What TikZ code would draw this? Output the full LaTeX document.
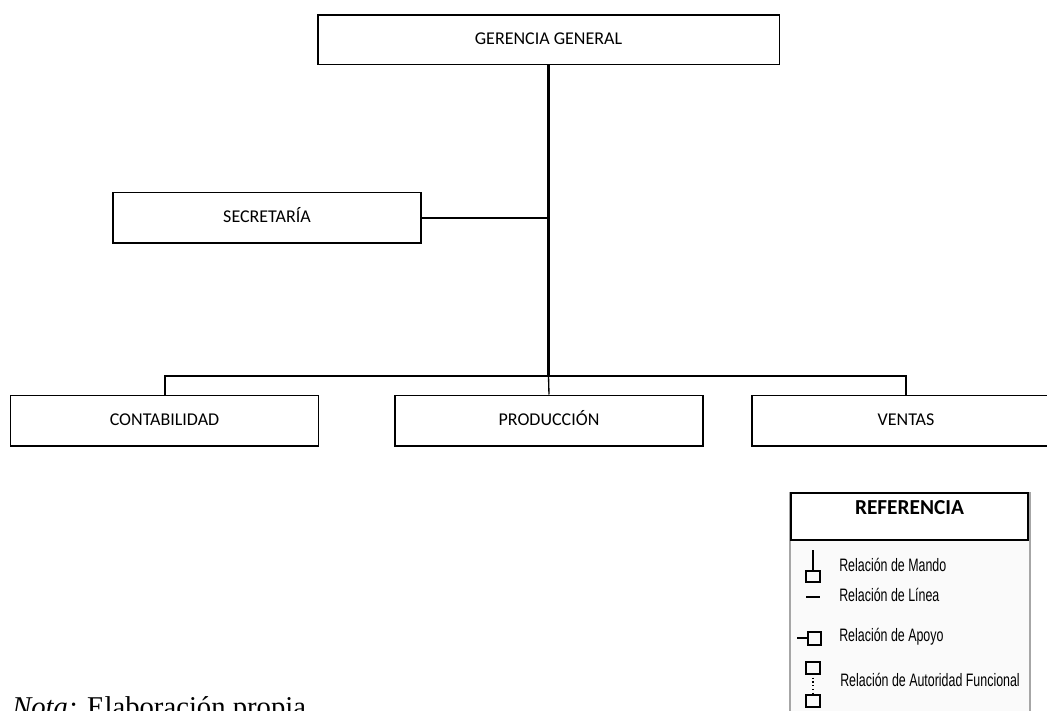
\documentclass[tikz,border=0pt]{standalone}
\usepackage{fontspec}
\setmainfont{Carlito}
\newfontfamily\notafont{Liberation Serif}
\newfontfamily\legendfont[FakeStretch = 0.69]{Liberation Sans}
\usepackage{tikz}
\usetikzlibrary{positioning}
\tikzset{
unit box/.style = { rectangle, draw = black, fill = white, line width = 1pt, minimum width = 231pt, minimum height = 38pt, inner sep = 0pt, text height = 9.5pt, text depth = 2.5pt, font = \fontsize{13.5}{16}\selectfont },
head box/.style = { unit box, minimum width = 346pt, minimum height = 37pt },
legend head/.style = { rectangle, draw = black, fill = white, line width = 1.4pt, minimum width = 178pt, minimum height = 35pt, text depth = 13pt, font = \fontsize{16}{19}\selectfont\bfseries },
legend text/.style = { anchor = west, inner sep = 0pt, font = \legendfont\fontsize{13.5}{16}\selectfont },
mando/.style = { draw = black, line width = 2.2pt },
rama/.style = { draw = black, line width = 1.5pt },
}

\begin{document}
\begin{tikzpicture}[x = 0.75pt, y = -0.75pt]
    \useasboundingbox (0, 0) rectangle (1047, 711);
    % organigrama
    \node[head box] (gerencia) at (548.5, 39.5) {GERENCIA GENERAL};
    \node[unit box] (secretaria) at (267, 217.5) {SECRETARÍA};
    \node[unit box] (contabilidad) at (164.5, 420.5) {CONTABILIDAD};
    \node[unit box] (produccion) at (549, 420.5) {PRODUCCIÓN};
    \node[unit box] (ventas) at (906, 420.5) {VENTAS};
    \coordinate (bus) at (548.5, 376);
    \path[mando] (gerencia.south) -- (bus);
    \path[rama] (secretaria.east) -- (secretaria.east -| gerencia.south);
    \path[rama] (contabilidad.north) |- (bus) -| (ventas.north);
    \path[draw = black, line width = 1pt] (bus) -- (produccion.north);
    % referencia
    \path[fill = gray!4, draw = gray!70, line width = 1pt] (790, 711) -- (790, 493) -- (1030, 493) -- (1030, 711);
    \node[legend head] (referencia) at (909.5, 516.5) {REFERENCIA};
    \path[draw = black, line width = 1pt] (813, 550) -- (813, 571);
    \path[draw = black, line width = 1pt] (806, 571) rectangle (820, 582);
    \path[draw = black, line width = 1.6pt] (806, 597) -- (820, 597);
    \path[draw = black, line width = 1pt] (797, 638) -- (808, 638);
    \path[draw = black, line width = 1pt] (808, 632) rectangle (821, 645);
    \path[draw = black, line width = 1pt] (806, 662) rectangle (820, 674);
    \path[draw = black, line width = 0.8pt, dotted] (813, 674) -- (813, 695);
    \path[draw = black, line width = 1pt] (806, 695) rectangle (820, 707);
    \node[legend text] (mando) at (839, 565) {Relación de Mando};
    \node[legend text] (linea) at (839, 595) {Relación de Línea};
    \node[legend text] (apoyo) at (839, 637) {Relación de Apoyo};
    \node[legend text] (funcional) at (840, 680) {Relación de Autoridad Funcional};
    % nota
    \node[anchor = base west, inner sep = 0pt, font = \notafont\fontsize{21.5}{24}\selectfont] (nota) at (12, 716) {\textit{Nota:} Elaboración propia};
\end{tikzpicture}
\end{document}
